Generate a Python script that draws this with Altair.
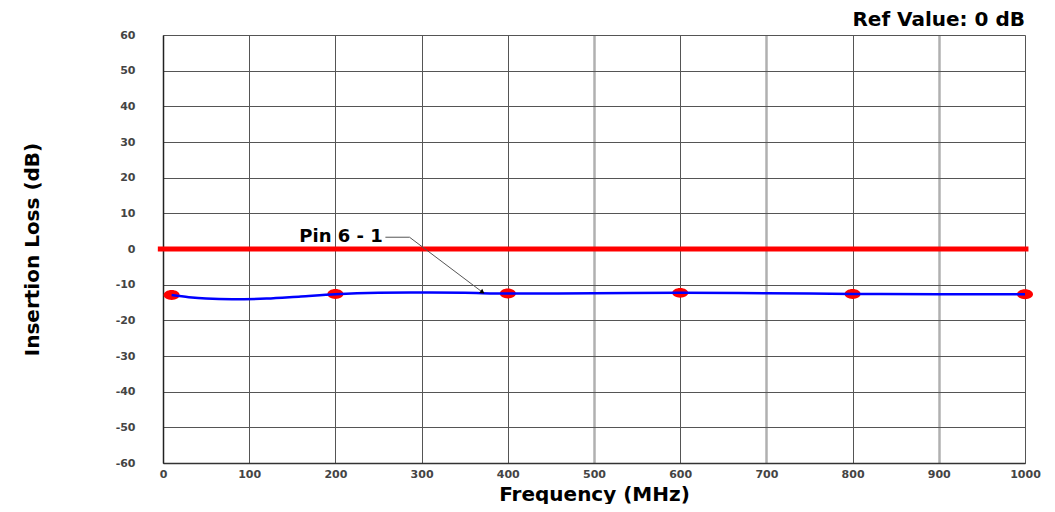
import altair as alt
import pandas as pd

# ---- data ----
curve_freq = [10, 30, 50, 80, 120, 160, 200, 250, 300, 350, 400, 500, 600, 700, 800, 900, 1000]
curve_il = [-12.9, -13.5, -13.9, -14.1, -13.9, -13.3, -12.7, -12.3, -12.2, -12.3, -12.5, -12.4, -12.3, -12.4, -12.6, -12.7, -12.7]

marker_freq = [10, 200, 400, 600, 800, 1000]
marker_il = [-12.9, -12.6, -12.5, -12.3, -12.6, -12.7]

ref_freq = [-6, 1004]
ref_il = [0, 0]

label_text = ["Pin 6 - 1"]
label_freq = [255]
label_il = [3.3]

leader_freq = [258, 286, 370]
leader_il = [3.3, 3.3, -12.0]
leader_order = [0, 1, 2]

title_text = ["Ref Value: 0 dB"]

x_ticks = [0, 100, 200, 300, 400, 500, 600, 700, 800, 900, 1000]
y_ticks = [-60, -50, -40, -30, -20, -10, 0, 10, 20, 30, 40, 50, 60]

curve_df = pd.DataFrame({"freq": curve_freq, "il": curve_il})
marker_df = pd.DataFrame({"freq": marker_freq, "il": marker_il})
ref_df = pd.DataFrame({"freq": ref_freq, "il": ref_il})
label_df = pd.DataFrame({"freq": label_freq, "il": label_il, "text": label_text})
leader_df = pd.DataFrame({"freq": leader_freq, "il": leader_il, "o": leader_order})
tip_df = leader_df.tail(1)
title_df = pd.DataFrame({"text": title_text})

BOLD_FONT = "DejaVu Sans"

xscale = alt.Scale(domain=[0, 1000], nice=False, zero=False)
yscale = alt.Scale(domain=[-60, 60], nice=False, zero=False)

heavy = "datum.value == 500 || datum.value == 700 || datum.value == 900"
grid_color = {"condition": {"test": heavy, "value": "#b0b0b0"}, "value": "#555555"}
grid_width = {"condition": {"test": heavy, "value": 2.5}, "value": 1}

x_axis = alt.Axis(
    values=x_ticks, tickCount=11, title="Frequency (MHz)", ticks=False, grid=True,
    gridColor=grid_color, gridWidth=grid_width,
    labelExpr="toString(datum.value)", labelOverlap=False,
    labelFont=BOLD_FONT, labelFontSize=11, labelFontWeight="bold", labelColor="#444444",
    labelPadding=5, labelFlush=False,
    titleFont=BOLD_FONT, titleFontSize=20, titleFontWeight="bold", titleColor="#000000",
    titleBaseline="alphabetic", titleY=37,
    domainColor="#333333", domainWidth=1.5,
)
y_axis = alt.Axis(
    values=y_ticks, tickCount=13, title="Insertion Loss (dB)", ticks=False, grid=True,
    gridColor="#555555", gridWidth=1,
    labelExpr="toString(datum.value)", labelOverlap=False,
    labelFont=BOLD_FONT, labelFontSize=11, labelFontWeight="bold", labelColor="#444444",
    labelPadding=28,
    titleFont=BOLD_FONT, titleFontSize=20,
    titleFontWeight="bold", titleColor="#000000",
    titleAngle=-90, titleAlign="center", titleBaseline="middle", titleX=-131, titleY=214,
    domainColor="#222222", domainWidth=1.5,
)

X = alt.X("freq:Q", scale=xscale, axis=x_axis)
Y = alt.Y("il:Q", scale=yscale, axis=y_axis)

ref_line = alt.Chart(ref_df).mark_line(color="#ff0000", strokeWidth=5, clip=False).encode(
    x=X, y=Y
)

ellipse = "M -1 0 A 1 0.62 0 1 0 1 0 A 1 0.62 0 1 0 -1 0 Z"
dots = alt.Chart(marker_df).mark_point(shape=ellipse, filled=True, size=256, color="#ff0000", opacity=1, clip=False).encode(
    x=X, y=Y
)

curve = alt.Chart(curve_df).mark_line(color="#0000ff", strokeWidth=2.5, interpolate="monotone").encode(
    x=X, y=Y
)

leader = alt.Chart(leader_df).mark_line(color="#555555", strokeWidth=1).encode(
    x=X, y=Y, order="o:Q"
)

tip = alt.Chart(tip_df).mark_point(shape="triangle", filled=True, size=28, color="#000000", opacity=1, angle=126).encode(
    x=X, y=Y
)

label = alt.Chart(label_df).mark_text(
    align="right", baseline="middle", font=BOLD_FONT, fontSize=18, fontWeight="bold", color="#000000"
).encode(x=X, y=Y, text="text:N")

top_title = alt.Chart(title_df).mark_text(
    align="right", baseline="alphabetic", font=BOLD_FONT, fontSize=20, fontWeight="bold", color="#000000"
).encode(x=alt.value(862), y=alt.value(-9), text="text:N")

chart = alt.layer(ref_line, dots, curve, leader, tip, label, top_title).properties(
    width=862, height=428,
    padding={"left": 155, "top": 27, "right": 22, "bottom": 41},
    autosize=alt.AutoSizeParams(type="none"),
).configure_view(stroke="#8a8a8a", strokeWidth=1.5).configure(background="#ffffff")

chart.save("out.html", embed_options={"renderer": "svg", "actions": False})
